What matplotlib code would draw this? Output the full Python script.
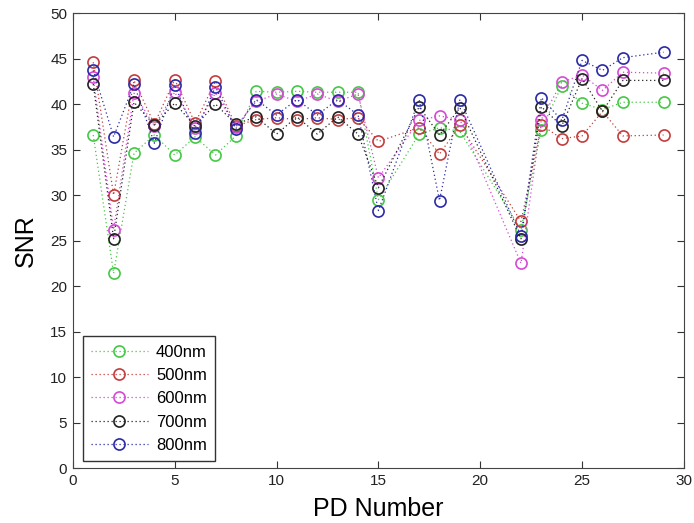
import numpy as np
import matplotlib
matplotlib.use("Agg")
import matplotlib.pyplot as plt

# PD numbers that have measurements (16, 20, 21, 28 missing)
pd_num = [1, 2, 3, 4, 5, 6, 7, 8, 9, 10, 11, 12, 13, 14, 15,
          17, 18, 19, 22, 23, 24, 25, 26, 27, 29]

snr_400 = [36.6, 21.4, 34.6, 36.6, 34.4, 36.4, 34.4, 36.5, 41.4, 41.3, 41.4, 41.3, 41.3, 41.3, 29.5,
           36.7, 37.4, 37.0, 26.2, 37.2, 42.0, 40.1, 39.4, 40.2, 40.2]
snr_500 = [44.6, 30.0, 42.6, 37.8, 42.7, 37.9, 42.5, 37.6, 38.3, 38.5, 38.3, 38.5, 38.3, 38.5, 35.9,
           37.4, 34.5, 37.7, 27.1, 37.7, 36.2, 36.5, 39.2, 36.5, 36.6]
snr_600 = [43.0, 26.2, 41.2, 37.6, 41.3, 37.4, 41.2, 37.5, 40.3, 41.1, 40.3, 41.1, 40.3, 41.1, 31.9,
           38.2, 38.7, 38.3, 22.5, 38.3, 42.4, 43.2, 41.5, 43.5, 43.4]
snr_700 = [42.2, 25.2, 40.2, 37.7, 40.1, 37.6, 40.0, 37.8, 38.6, 36.7, 38.6, 36.7, 38.6, 36.7, 30.8,
           39.7, 36.6, 39.6, 25.2, 39.7, 37.6, 42.8, 39.2, 42.6, 42.6]
snr_800 = [43.7, 36.4, 42.2, 35.7, 42.1, 36.8, 41.9, 37.3, 40.5, 38.8, 40.5, 38.8, 40.5, 38.8, 28.3,
           40.5, 29.4, 40.5, 25.5, 40.7, 38.2, 44.8, 43.7, 45.1, 45.7]

labels = ["400nm", "500nm", "600nm", "700nm", "800nm"]
colors = ["#45c845", "#c43c3c", "#d44ad4", "#222222", "#2a2aa8"]

fig = plt.figure(figsize=(6.94, 5.23), dpi=100)
ax = fig.add_axes([0.105, 0.105, 0.8805, 0.87])

series = [snr_400, snr_500, snr_600, snr_700, snr_800]
for vals, lab, col in zip(series, labels, colors):
    ax.plot(pd_num, vals, linestyle=(0, (1, 2.2)), linewidth=0.9, color=col,
            marker="o", markersize=8, markerfacecolor="none",
            markeredgecolor=col, markeredgewidth=1.2, label=lab)

ax.set_xlim(0, 30)
ax.set_ylim(0, 50)
ax.set_xticks(np.arange(0, 31, 5))
ax.set_yticks(np.arange(0, 51, 5))
ax.tick_params(direction="in", length=5, top=True, right=True,
               labelsize=11, colors="#333333", labelcolor="#222222", pad=4)
for sp in ax.spines.values():
    sp.set_color("#444444")

ax.set_xlabel("PD Number", fontsize=18, family="Liberation Sans", labelpad=7)
ax.set_ylabel("SNR", fontsize=18, family="Liberation Sans", labelpad=9)
for t in ax.get_xticklabels() + ax.get_yticklabels():
    t.set_family("Liberation Sans")

leg = ax.legend(loc="lower left", bbox_to_anchor=(0.016, 0.015),
                fancybox=False, framealpha=1, edgecolor="#333333",
                prop={"family": "Liberation Sans", "size": 12},
                handlelength=3.4, handletextpad=0.5, borderpad=0.5,
                labelspacing=0.5, borderaxespad=0)
leg.get_frame().set_linewidth(1.0)

fig.savefig("out.png", dpi=100)
